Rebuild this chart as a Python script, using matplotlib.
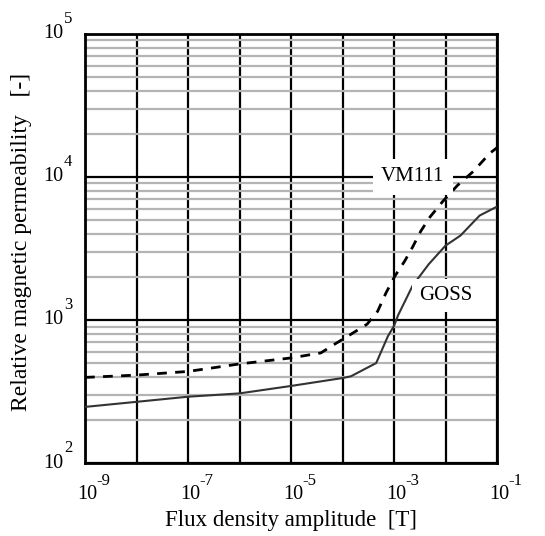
import numpy as np
import matplotlib.pyplot as plt
from matplotlib.ticker import LogLocator, FixedLocator, NullFormatter
from matplotlib.transforms import blended_transform_factory, ScaledTranslation

plt.rcParams['font.family'] = ['Liberation Serif', 'DejaVu Serif']

# flux density amplitude [T] and relative permeability
vm111_b = [1e-9, 1e-8, 1e-7, 1e-6, 1e-5, 3.8e-5, 6.9e-5, 1.26e-4, 3.0e-4,
           4.8e-4, 7.0e-4, 1.05e-3, 1.6e-3, 2.3e-3, 3.3e-3, 5.0e-3, 8.9e-3,
           1.7e-2, 3.5e-2, 7.2e-2, 1e-1]
vm111_mu = [397, 412, 437, 493, 543, 589, 675, 770, 935,
            1150, 1550, 2040, 2570, 3240, 4170, 5250, 6760,
            8710, 10960, 14600, 16000]

goss_b = [1e-9, 1e-8, 1e-7, 1e-6, 1e-5, 1e-4, 1.45e-4, 4.5e-4, 7.6e-4,
          1e-3, 1.2e-3, 2.3e-3, 4.7e-3, 1e-2, 1.95e-2, 4.6e-2, 1e-1]
goss_mu = [247, 268, 291, 307, 346, 393, 404, 500, 770,
           910, 1080, 1740, 2450, 3310, 3890, 5370, 6200]

x_label_ticks = [1e-9, 1e-7, 1e-5, 1e-3, 1e-1]
x_grid_ticks = [1e-8, 1e-6, 1e-4, 1e-2]
y_label_ticks = [1e2, 1e3, 1e4, 1e5]

fig = plt.figure(figsize=(5.45, 5.36), dpi=100)
ax = fig.add_axes([0.156, 0.136, 0.756, 0.801])
ax.set_xscale('log')
ax.set_yscale('log')
ax.set_xlim(1e-9, 1e-1)
ax.set_ylim(1e2, 1e5)

ax.xaxis.set_major_locator(FixedLocator(x_label_ticks))
ax.xaxis.set_minor_locator(FixedLocator(x_grid_ticks))
ax.yaxis.set_major_locator(FixedLocator(y_label_ticks))
ax.yaxis.set_minor_locator(LogLocator(base=10, subs=np.arange(2, 10)))
for axis in (ax.xaxis, ax.yaxis):
    axis.set_major_formatter(NullFormatter())
    axis.set_minor_formatter(NullFormatter())
ax.tick_params(which='both', length=0)

# "10" with a raised exponent, like the scanned figure
def shifted(base, dx, dy):
    return base + ScaledTranslation(dx / 100, dy / 100, fig.dpi_scale_trans)

tx = blended_transform_factory(ax.transData, ax.transAxes)
for v in x_label_ticks:
    e = int(round(np.log10(v)))
    ax.text(v, 0, '10', transform=shifted(tx, 2, -31), ha='center', va='center', fontsize=14.5)
    ax.text(v, 0, '%d' % e, transform=shifted(tx, 11.5, -18), ha='left', va='center', fontsize=12)

ty = blended_transform_factory(ax.transAxes, ax.transData)
for v in y_label_ticks:
    e = int(round(np.log10(v)))
    ax.text(0, v, '10', transform=shifted(ty, -22, 0), ha='right', va='center', fontsize=14.5)
    ax.text(0, v, '%d' % e, transform=shifted(ty, -21, 15), ha='left', va='center', fontsize=12)

ax.grid(axis='y', which='minor', color='#b4b4b4', lw=1.6, zorder=0)
ax.grid(axis='y', which='major', color='black', lw=1.6, zorder=1)
ax.grid(axis='x', which='both', color='black', lw=1.6, zorder=1)
for s in ax.spines.values():
    s.set_linewidth(2)

ax.plot(vm111_b, vm111_mu, color='black', lw=2, ls=(0, (3.5, 3)), zorder=3)
ax.plot(goss_b, goss_mu, color='#333333', lw=1.5, zorder=3)

ax.text(2.3e-3, 1e4, 'VM111', fontsize=15, ha='center', va='center',
        bbox=dict(facecolor='white', edgecolor='none', pad=6), zorder=4)
ax.text(1e-2, 1.48e3, 'GOSS', fontsize=15, ha='center', va='center',
        bbox=dict(facecolor='white', edgecolor='none', pad=5), zorder=4)

ax.set_xlabel('Flux density amplitude  [T]', fontsize=16.5, va='center')
ax.xaxis.set_label_coords(0.5, -0.133)
ax.set_ylabel('Relative magnetic permeability   [-]', fontsize=17, va='center')
ax.yaxis.set_label_coords(-0.155, 0.515)

fig.savefig('out.png', dpi=100)
